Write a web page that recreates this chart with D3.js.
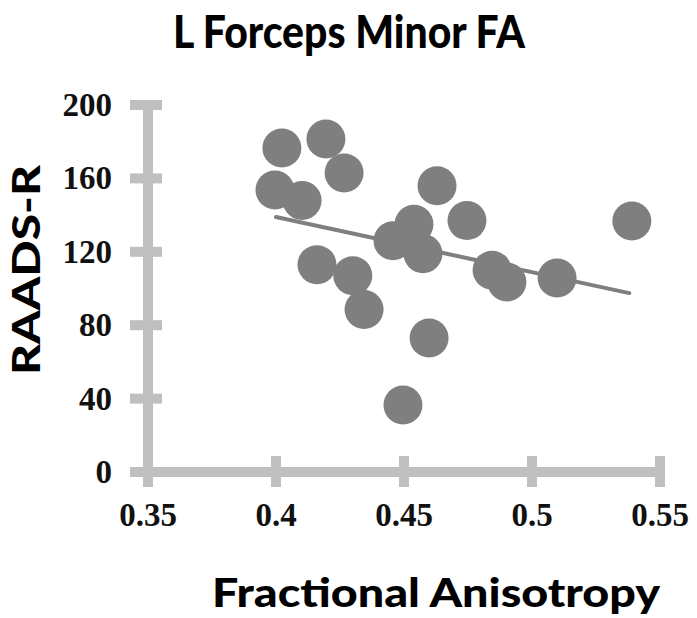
<!DOCTYPE html>
<html>
<head>
  <meta charset="UTF-8" />
  <title>L Forceps Minor FA</title>
  <script src="https://cdn.jsdelivr.net/npm/d3@7"></script>
  <style>
    body { margin: 0; background: #fff; }
    .tick-label { font-family: "Liberation Serif", "Times New Roman", serif; font-weight: bold; font-size: 33px; fill: #111; }
    .geo { font-family: Lato, "Century Gothic", sans-serif; font-weight: 900; fill: #000; }
  </style>
</head>
<body>
  <svg width="697" height="618"></svg>
  <script>
    // data
    var faValues = [0.4023, 0.4195, 0.4266, 0.3996, 0.4102, 0.416, 0.430, 0.4344, 0.4496, 0.4598,
                    0.4629, 0.4746, 0.4457, 0.4539, 0.4574, 0.4844, 0.4902, 0.5098, 0.539];
    var raadsValues = [176.6, 181.5, 163, 153.7, 148, 113, 107, 88.6, 36.5, 73,
                       156, 137, 126, 135, 119, 110, 103.5, 105.7, 136.8];
    var xTicks = [0.35, 0.4, 0.45, 0.5, 0.55];
    var yTicks = [0, 40, 80, 120, 160, 200];
    var trendX = [0.40, 0.538];
    var trendY = [139, 97.5];

    var svg = d3.select("svg");
    var axisColor = "#bfbfbf";
    var dotColor = "#7f7f7f";

    var x = d3.scaleLinear().domain([0.35, 0.55]).range([148, 660]);
    var y = d3.scaleLinear().domain([0, 200]).range([472, 105]);

    //坐标轴
    var axes = svg.append("g");
    axes.append("line")
      .attr("x1", x(0.35)).attr("x2", x(0.35))
      .attr("y1", y(200)).attr("y2", y(0) + 14)
      .attr("stroke", axisColor).attr("stroke-width", 10);
    axes.append("line")
      .attr("x1", x(0.35) - 16).attr("x2", x(0.55))
      .attr("y1", y(0)).attr("y2", y(0))
      .attr("stroke", axisColor).attr("stroke-width", 10);

    axes.selectAll(".ytick")
      .data(yTicks)
      .enter()
      .append("line")
      .attr("x1", x(0.35) - 18).attr("x2", x(0.35) + 14)
      .attr("y1", d => y(d)).attr("y2", d => y(d))
      .attr("stroke", axisColor).attr("stroke-width", 10);

    axes.selectAll(".xtick")
      .data(xTicks)
      .enter()
      .append("line")
      .attr("x1", d => x(d)).attr("x2", d => x(d))
      .attr("y1", y(0) - 16).attr("y2", y(0) + 15)
      .attr("stroke", axisColor).attr("stroke-width", 10);

    //刻度文字
    svg.append("g").selectAll("text")
      .data(yTicks)
      .enter()
      .append("text")
      .attr("class", "tick-label")
      .attr("x", 112)
      .attr("y", d => y(d) + 11)
      .attr("text-anchor", "end")
      .text(d => d);

    svg.append("g").selectAll("text")
      .data(xTicks)
      .enter()
      .append("text")
      .attr("class", "tick-label")
      .attr("x", d => x(d))
      .attr("y", 526)
      .attr("text-anchor", "middle")
      .text(d => d);

    //散点
    svg.append("g").selectAll("circle")
      .data(faValues)
      .enter()
      .append("circle")
      .attr("cx", d => x(d))
      .attr("cy", (d, i) => y(raadsValues[i]))
      .attr("r", 19.5)
      .attr("fill", dotColor);

    //趋势线
    svg.append("line")
      .attr("x1", x(trendX[0])).attr("y1", y(trendY[0]))
      .attr("x2", x(trendX[1])).attr("y2", y(trendY[1]))
      .attr("stroke", dotColor)
      .attr("stroke-width", 4)
      .attr("stroke-linecap", "round");

    //标题
    svg.append("text")
      .attr("class", "geo")
      .attr("x", 173).attr("y", 48)
      .attr("font-size", 45)
      .attr("textLength", 352)
      .attr("lengthAdjust", "spacingAndGlyphs")
      .text("L Forceps Minor FA");

    svg.append("text")
      .attr("class", "geo")
      .attr("x", 212).attr("y", 607)
      .attr("font-size", 40)
      .attr("textLength", 448)
      .attr("lengthAdjust", "spacingAndGlyphs")
      .text("Fractional Anisotropy");

    svg.append("text")
      .attr("class", "geo")
      .attr("transform", "translate(40,375) rotate(-90)")
      .attr("font-size", 37)
      .attr("textLength", 210)
      .attr("lengthAdjust", "spacingAndGlyphs")
      .text("RAADS-R");
  </script>
</body>
</html>
